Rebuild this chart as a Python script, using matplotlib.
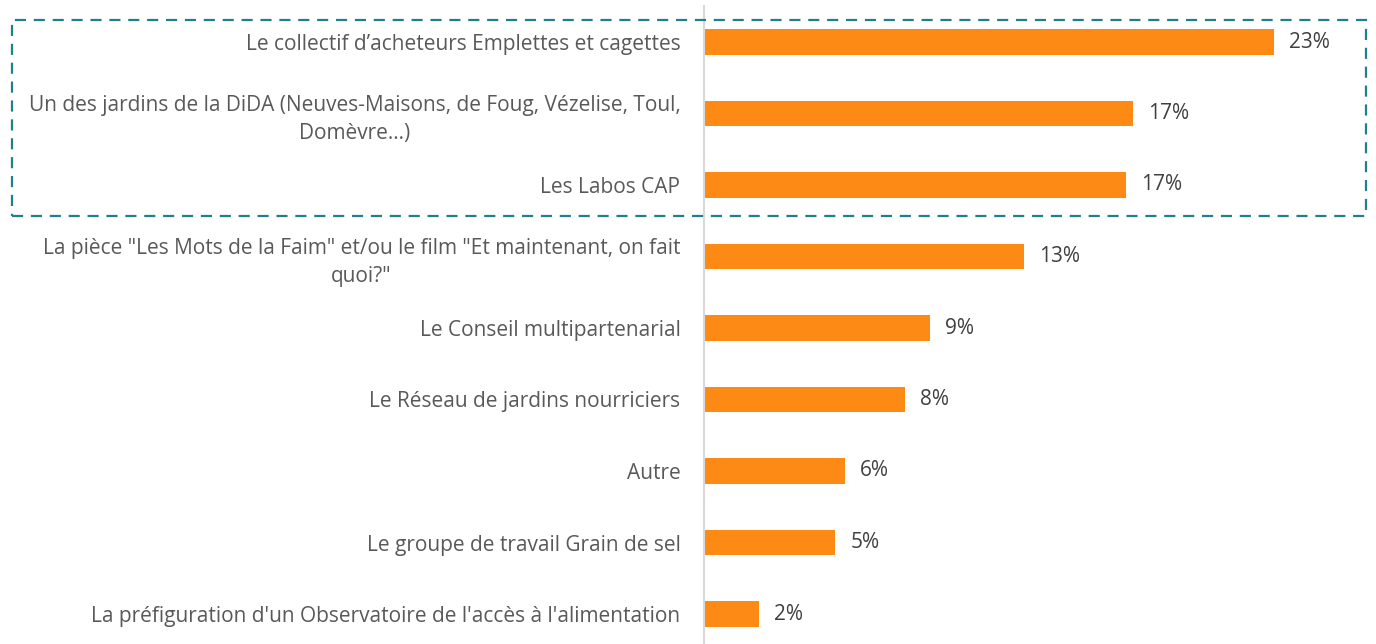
import matplotlib
matplotlib.use("Agg")
import matplotlib.pyplot as plt
from matplotlib.patches import Rectangle

categories = [
    "Le collectif d\u2019acheteurs Emplettes et cagettes",
    "Un des jardins de la DiDA (Neuves-Maisons, de Foug, V\u00e9zelise, Toul,\nDom\u00e8vre\u2026)",
    "Les Labos CAP",
    "La pi\u00e8ce \"Les Mots de la Faim\" et/ou le film \"Et maintenant, on fait\nquoi?\"",
    "Le Conseil multipartenarial",
    "Le R\u00e9seau de jardins nourriciers",
    "Autre",
    "Le groupe de travail Grain de sel",
    "La pr\u00e9figuration d'un Observatoire de l'acc\u00e8s \u00e0 l'alimentation",
]
values = [23.0, 17.3, 17.0, 12.9, 9.1, 8.1, 5.7, 5.3, 2.2]

W, H = 1376, 644
fig = plt.figure(figsize=(W / 100, H / 100), dpi=100)
ax_left = 704 / W
ax = fig.add_axes([ax_left, 0, 1 - ax_left, 1])

font = "Open Sans"
ypos = list(range(len(values)))
ax.barh(ypos, values, height=0.36, color="#FD8A14", zorder=2)

px_per_unit = 24.8
ax.set_xlim(0, (W - 704) / px_per_unit)
spacing = 71.5
ax.set_ylim((H - 42) / spacing, -42 / spacing)

for y, v in zip(ypos, values):
    ax.text(v + 15 / px_per_unit, y, f"{round(v):d}%", va="center", ha="left",
            fontsize=15, color="#404040", family=font)

ax.set_yticks(ypos)
ax.set_yticklabels(categories, fontsize=15, color="#595959", family=font,
                   multialignment="center", linespacing=1.45)
ax.tick_params(axis="y", length=0, pad=17)
ax.set_xticks([])
for s in ["top", "right", "bottom"]:
    ax.spines[s].set_visible(False)
ax.spines["left"].set_color("#d9d9d9")
ax.spines["left"].set_linewidth(1.5)
ax.spines["left"].set_bounds(-42 / spacing + 6 / spacing, (H - 42) / spacing)

rect = Rectangle((12 / W, 1 - 216 / H), (1366 - 12) / W, (216 - 20) / H,
                 transform=fig.transFigure, fill=False, edgecolor="#1F7F8C",
                 linewidth=1.6, linestyle=(0, (5, 3.5)), zorder=5)
fig.patches.append(rect)

fig.savefig("out.png", dpi=100)
